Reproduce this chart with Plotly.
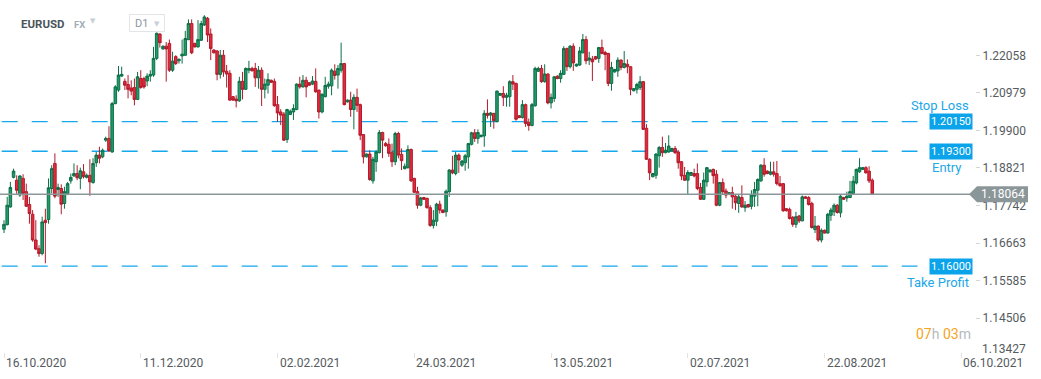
import plotly.graph_objects as go

# ---------------- data ----------------
symbol = "EURUSD"
timeframe = "D1"

open_ = [
    1.1706, 1.1719, 1.1770, 1.1855, 1.1847, 1.1804, 1.1852, 1.1814, 1.1777, 1.1749,
    1.1675, 1.1650, 1.1636, 1.1732, 1.1734, 1.1823, 1.1895, 1.1820, 1.1823, 1.1780,
    1.1809, 1.1845, 1.1859, 1.1866, 1.1852, 1.1871, 1.1855, 1.1861, 1.1840, 1.1897,
    1.1919, 1.1914, 1.1962, 1.1967, 1.1928, 1.2067, 1.2106, 1.2146, 1.2131, 1.2122,
    1.2112, 1.2113, 1.2079, 1.2139, 1.2139, 1.2132, 1.2146, 1.2149, 1.2197, 1.2267,
    1.2224, 1.2232, 1.2240, 1.2163, 1.2202, 1.2190, 1.2204, 1.2206, 1.2251, 1.2297,
    1.2240, 1.2230, 1.2249, 1.2293, 1.2312, 1.2267, 1.2221, 1.2218, 1.2151, 1.2206,
    1.2160, 1.2154, 1.2087, 1.2080, 1.2075, 1.2131, 1.2108, 1.2163, 1.2168, 1.2168,
    1.2141, 1.2163, 1.2108, 1.2120, 1.2134, 1.2131, 1.2064, 1.2043, 1.2037, 1.1964,
    1.2036, 1.2043, 1.2050, 1.2123, 1.2115, 1.2134, 1.2127, 1.2123, 1.2131, 1.2106,
    1.2043, 1.2087, 1.2117, 1.2118, 1.2160, 1.2149, 1.2163, 1.2182, 1.2072, 1.2077,
    1.2050, 1.2085, 1.2064, 1.1978, 1.1914, 1.1922, 1.1845, 1.1900, 1.1926, 1.1984,
    1.1952, 1.1950, 1.1926, 1.1900, 1.1981, 1.1921, 1.1880, 1.1883, 1.1935, 1.1852,
    1.1814, 1.1775, 1.1797, 1.1795, 1.1768, 1.1717, 1.1729, 1.1778, 1.1761, 1.1756,
    1.1814, 1.1876, 1.1866, 1.1919, 1.1890, 1.1897, 1.1914, 1.1950, 1.1983, 1.1967,
    1.1972, 1.1974, 1.2039, 1.2034, 1.2039, 1.2015, 1.2091, 1.2096, 1.2085, 1.2087,
    1.2130, 1.2125, 1.2032, 1.2027, 1.2064, 1.2013, 1.2004, 1.2061, 1.2160, 1.2168,
    1.2130, 1.2152, 1.2069, 1.2082, 1.2146, 1.2139, 1.2151, 1.2225, 1.2173, 1.2232,
    1.2175, 1.2178, 1.2213, 1.2251, 1.2192, 1.2195, 1.2202, 1.2197, 1.2228, 1.2214,
    1.2211, 1.2125, 1.2158, 1.2161, 1.2192, 1.2171, 1.2180, 1.2173, 1.2104, 1.2108,
    1.2113, 1.2130, 1.1996, 1.1907, 1.1857, 1.1861, 1.1917, 1.1941, 1.1926, 1.1928,
    1.1931, 1.1938, 1.1928, 1.1900, 1.1861, 1.1847, 1.1861, 1.1866, 1.1866, 1.1826,
    1.1792, 1.1842, 1.1871, 1.1878, 1.1864, 1.1775, 1.1840, 1.1816, 1.1806, 1.1811,
    1.1801, 1.1780, 1.1797, 1.1768, 1.1777, 1.1772, 1.1801, 1.1818, 1.1845, 1.1890,
    1.1873, 1.1864, 1.1871, 1.1866, 1.1837, 1.1837, 1.1765, 1.1763, 1.1740, 1.1720,
    1.1744, 1.1730, 1.1799, 1.1797, 1.1780, 1.1705, 1.1715, 1.1675, 1.1703, 1.1695,
    1.1746, 1.1756, 1.1775, 1.1753, 1.1797, 1.1796, 1.1797, 1.1809, 1.1839, 1.1871,
    1.1878, 1.1883, 1.1873, 1.1847,
]

high = [
    1.1732, 1.1799, 1.1842, 1.1880, 1.1861, 1.1861, 1.1864, 1.1837, 1.1799, 1.1761,
    1.1732, 1.1660, 1.1742, 1.1765, 1.1852, 1.1890, 1.1924, 1.1837, 1.1835, 1.1828,
    1.1842, 1.1866, 1.1895, 1.1890, 1.1883, 1.1893, 1.1866, 1.1907, 1.1910, 1.1928,
    1.1943, 1.1938, 1.1972, 1.2002, 1.2072, 1.2120, 1.2175, 1.2173, 1.2139, 1.2149,
    1.2134, 1.2139, 1.2158, 1.2163, 1.2144, 1.2154, 1.2163, 1.2230, 1.2271, 1.2269,
    1.2234, 1.2244, 1.2251, 1.2216, 1.2206, 1.2197, 1.2251, 1.2276, 1.2309, 1.2309,
    1.2242, 1.2307, 1.2305, 1.2321, 1.2316, 1.2283, 1.2223, 1.2221, 1.2221, 1.2221,
    1.2178, 1.2163, 1.2089, 1.2091, 1.2144, 1.2158, 1.2171, 1.2190, 1.2173, 1.2184,
    1.2175, 1.2171, 1.2139, 1.2154, 1.2136, 1.2139, 1.2089, 1.2051, 1.2043, 1.2052,
    1.2050, 1.2065, 1.2125, 1.2144, 1.2149, 1.2144, 1.2129, 1.2146, 1.2168, 1.2106,
    1.2096, 1.2144, 1.2130, 1.2168, 1.2180, 1.2178, 1.2242, 1.2184, 1.2079, 1.2101,
    1.2094, 1.2110, 1.2067, 1.1979, 1.1924, 1.1933, 1.1914, 1.1933, 1.1991, 1.1986,
    1.1957, 1.1967, 1.1952, 1.1986, 1.1986, 1.1938, 1.1895, 1.1947, 1.1938, 1.1854,
    1.1828, 1.1799, 1.1799, 1.1796, 1.1775, 1.1761, 1.1782, 1.1788, 1.1763, 1.1820,
    1.1879, 1.1917, 1.1928, 1.1924, 1.1905, 1.1922, 1.1954, 1.1986, 1.1994, 1.1993,
    1.1978, 1.2048, 1.2079, 1.2043, 1.2040, 1.2104, 1.2098, 1.2117, 1.2098, 1.2134,
    1.2149, 1.2127, 1.2034, 1.2077, 1.2067, 1.2024, 1.2069, 1.2173, 1.2173, 1.2178,
    1.2180, 1.2154, 1.2096, 1.2146, 1.2148, 1.2163, 1.2232, 1.2228, 1.2235, 1.2240,
    1.2182, 1.2230, 1.2267, 1.2261, 1.2216, 1.2204, 1.2204, 1.2230, 1.2251, 1.2219,
    1.2213, 1.2187, 1.2167, 1.2200, 1.2194, 1.2218, 1.2194, 1.2175, 1.2112, 1.2127,
    1.2146, 1.2132, 1.2008, 1.1910, 1.1868, 1.1924, 1.1945, 1.1972, 1.1954, 1.1976,
    1.1940, 1.1945, 1.1933, 1.1902, 1.1885, 1.1876, 1.1871, 1.1880, 1.1895, 1.1839,
    1.1869, 1.1885, 1.1878, 1.1880, 1.1876, 1.1842, 1.1852, 1.1823, 1.1813, 1.1828,
    1.1804, 1.1807, 1.1832, 1.1787, 1.1779, 1.1818, 1.1842, 1.1852, 1.1893, 1.1910,
    1.1875, 1.1900, 1.1900, 1.1902, 1.1859, 1.1839, 1.1767, 1.1768, 1.1744, 1.1756,
    1.1747, 1.1803, 1.1801, 1.1801, 1.1785, 1.1744, 1.1717, 1.1708, 1.1705, 1.1753,
    1.1768, 1.1780, 1.1778, 1.1804, 1.1799, 1.1814, 1.1845, 1.1859, 1.1880, 1.1910,
    1.1885, 1.1887, 1.1887, 1.1852,
]

low = [
    1.1695, 1.1717, 1.1768, 1.1852, 1.1804, 1.1799, 1.1790, 1.1770, 1.1722, 1.1670,
    1.1646, 1.1627, 1.1631, 1.1608, 1.1722, 1.1809, 1.1795, 1.1799, 1.1749, 1.1765,
    1.1804, 1.1837, 1.1857, 1.1847, 1.1821, 1.1852, 1.1852, 1.1802, 1.1837, 1.1885,
    1.1895, 1.1910, 1.1957, 1.1928, 1.1926, 1.2065, 1.2101, 1.2144, 1.2106, 1.2082,
    1.2091, 1.2062, 1.2077, 1.2110, 1.2110, 1.2117, 1.2130, 1.2144, 1.2192, 1.2228,
    1.2222, 1.2130, 1.2158, 1.2158, 1.2178, 1.2182, 1.2182, 1.2204, 1.2249, 1.2209,
    1.2228, 1.2228, 1.2247, 1.2290, 1.2244, 1.2192, 1.2211, 1.2134, 1.2139, 1.2144,
    1.2113, 1.2075, 1.2075, 1.2056, 1.2072, 1.2079, 1.2106, 1.2154, 1.2160, 1.2115,
    1.2110, 1.2060, 1.2082, 1.2096, 1.2126, 1.2058, 1.2015, 1.2005, 1.1960, 1.1954,
    1.2034, 1.2020, 1.2048, 1.2110, 1.2113, 1.2085, 1.2118, 1.2120, 1.2098, 1.2024,
    1.2039, 1.2085, 1.2110, 1.2091, 1.2136, 1.2110, 1.2156, 1.2062, 1.2070, 1.2029,
    1.1993, 1.2043, 1.1962, 1.1895, 1.1912, 1.1845, 1.1837, 1.1871, 1.1924, 1.1910,
    1.1943, 1.1914, 1.1885, 1.1890, 1.1910, 1.1876, 1.1878, 1.1880, 1.1842, 1.1811,
    1.1765, 1.1772, 1.1790, 1.1765, 1.1713, 1.1708, 1.1715, 1.1751, 1.1752, 1.1742,
    1.1799, 1.1864, 1.1861, 1.1868, 1.1885, 1.1874, 1.1880, 1.1947, 1.1957, 1.1952,
    1.1970, 1.1943, 1.2024, 1.2000, 1.1995, 1.2014, 1.2089, 1.2060, 1.2058, 1.2058,
    1.2106, 1.2018, 1.2025, 1.2024, 1.2000, 1.1989, 1.2002, 1.2058, 1.2158, 1.2127,
    1.2127, 1.2065, 1.2053, 1.2072, 1.2137, 1.2127, 1.2149, 1.2161, 1.2168, 1.2161,
    1.2173, 1.2175, 1.2211, 1.2180, 1.2178, 1.2132, 1.2193, 1.2184, 1.2209, 1.2163,
    1.2117, 1.2104, 1.2156, 1.2144, 1.2163, 1.2168, 1.2154, 1.2091, 1.2102, 1.2096,
    1.2106, 1.1991, 1.1905, 1.1847, 1.1855, 1.1851, 1.1883, 1.1914, 1.1924, 1.1926,
    1.1929, 1.1922, 1.1880, 1.1847, 1.1845, 1.1807, 1.1859, 1.1855, 1.1818, 1.1790,
    1.1790, 1.1828, 1.1869, 1.1837, 1.1772, 1.1772, 1.1804, 1.1795, 1.1804, 1.1765,
    1.1761, 1.1753, 1.1768, 1.1756, 1.1768, 1.1763, 1.1770, 1.1772, 1.1842, 1.1857,
    1.1864, 1.1861, 1.1857, 1.1832, 1.1828, 1.1756, 1.1757, 1.1734, 1.1713, 1.1710,
    1.1724, 1.1729, 1.1793, 1.1774, 1.1708, 1.1695, 1.1670, 1.1668, 1.1694, 1.1694,
    1.1730, 1.1744, 1.1751, 1.1740, 1.1790, 1.1785, 1.1796, 1.1807, 1.1835, 1.1868,
    1.1876, 1.1866, 1.1839, 1.1806,
]

close = [
    1.1720, 1.1775, 1.1826, 1.1873, 1.1818, 1.1859, 1.1809, 1.1772, 1.1751, 1.1675,
    1.1649, 1.1636, 1.1727, 1.1725, 1.1825, 1.1880, 1.1801, 1.1826, 1.1778, 1.1814,
    1.1837, 1.1855, 1.1866, 1.1854, 1.1874, 1.1857, 1.1861, 1.1842, 1.1895, 1.1919,
    1.1910, 1.1933, 1.1967, 1.1931, 1.2067, 1.2115, 1.2149, 1.2151, 1.2120, 1.2108,
    1.2103, 1.2079, 1.2144, 1.2113, 1.2115, 1.2146, 1.2151, 1.2197, 1.2269, 1.2242,
    1.2232, 1.2224, 1.2163, 1.2189, 1.2182, 1.2194, 1.2209, 1.2254, 1.2297, 1.2213,
    1.2230, 1.2251, 1.2297, 1.2316, 1.2264, 1.2225, 1.2213, 1.2151, 1.2206, 1.2158,
    1.2152, 1.2077, 1.2077, 1.2075, 1.2131, 1.2108, 1.2168, 1.2168, 1.2161, 1.2141,
    1.2163, 1.2108, 1.2123, 1.2136, 1.2128, 1.2061, 1.2040, 1.2034, 1.1962, 1.2050,
    1.2045, 1.2053, 1.2123, 1.2115, 1.2134, 1.2115, 1.2120, 1.2132, 1.2101, 1.2043,
    1.2094, 1.2119, 1.2123, 1.2163, 1.2148, 1.2168, 1.2182, 1.2064, 1.2077, 1.2050,
    1.2085, 1.2062, 1.1976, 1.1914, 1.1922, 1.1849, 1.1907, 1.1928, 1.1984, 1.1962,
    1.1946, 1.1924, 1.1900, 1.1981, 1.1919, 1.1903, 1.1887, 1.1935, 1.1845, 1.1812,
    1.1775, 1.1796, 1.1792, 1.1768, 1.1717, 1.1732, 1.1778, 1.1761, 1.1754, 1.1815,
    1.1876, 1.1868, 1.1919, 1.1905, 1.1902, 1.1917, 1.1952, 1.1983, 1.1967, 1.1984,
    1.1976, 1.2039, 1.2033, 1.2040, 1.2018, 1.2103, 1.2096, 1.2085, 1.2091, 1.2130,
    1.2123, 1.2022, 1.2027, 1.2064, 1.2010, 1.2004, 1.2064, 1.2168, 1.2168, 1.2130,
    1.2152, 1.2069, 1.2085, 1.2144, 1.2139, 1.2154, 1.2225, 1.2173, 1.2232, 1.2184,
    1.2180, 1.2218, 1.2251, 1.2190, 1.2198, 1.2187, 1.2195, 1.2228, 1.2211, 1.2208,
    1.2125, 1.2171, 1.2165, 1.2192, 1.2171, 1.2182, 1.2173, 1.2108, 1.2110, 1.2122,
    1.2130, 1.1993, 1.1907, 1.1868, 1.1866, 1.1922, 1.1941, 1.1926, 1.1933, 1.1945,
    1.1938, 1.1926, 1.1897, 1.1859, 1.1847, 1.1869, 1.1869, 1.1859, 1.1823, 1.1792,
    1.1847, 1.1883, 1.1876, 1.1860, 1.1775, 1.1840, 1.1814, 1.1804, 1.1811, 1.1799,
    1.1782, 1.1799, 1.1770, 1.1775, 1.1770, 1.1804, 1.1820, 1.1849, 1.1890, 1.1864,
    1.1866, 1.1871, 1.1864, 1.1837, 1.1831, 1.1759, 1.1759, 1.1737, 1.1720, 1.1742,
    1.1730, 1.1799, 1.1795, 1.1777, 1.1711, 1.1715, 1.1675, 1.1703, 1.1695, 1.1749,
    1.1761, 1.1775, 1.1754, 1.1801, 1.1792, 1.1801, 1.1814, 1.1844, 1.1878, 1.1883,
    1.1883, 1.1868, 1.1845, 1.1807,
]

date_tick_bars = [0, 43, 86, 129, 172, 215, 258, 301]
date_tick_labels = ["16.10.2020", "11.12.2020", "02.02.2021", "24.03.2021",
                    "13.05.2021", "02.07.2021", "22.08.2021", "06.10.2021"]
price_ticks = [1.22058, 1.20979, 1.19900, 1.18821, 1.17742, 1.16663, 1.15585, 1.14506]
lowest_price_tick = 1.13427
level_names = ["Stop Loss", "Entry", "Take Profit"]
level_values = [1.20150, 1.19300, 1.16000]
last_price = 1.18064
countdown_hours = "07"
countdown_minutes = "03"

# ---------------- styling ----------------
GREEN_FILL, GREEN_LINE = "#1f9c69", "#0d6e47"
RED_FILL, RED_LINE = "#e62a3c", "#b01b2b"
LEVEL_BLUE = "#14a8f0"
LEVEL_BOX = "#0ba3ea"
LAST_GRAY = "#8b9699"
TEXT_GRAY = "#555b5e"

n = len(close)
assert len(open_) == len(high) == len(low) == n
bar_index = list(range(n))

PLOT_W = 975.0   # plot area width in px
PLOT_H = 352.0   # plot area height in px


def px_x(px):
    return px / PLOT_W


def px_y(py):
    return (PLOT_H - py) / PLOT_H


fig = go.Figure(
    go.Candlestick(
        x=bar_index, open=open_, high=high, low=low, close=close,
        increasing=dict(fillcolor=GREEN_FILL, line=dict(color=GREEN_LINE, width=1)),
        decreasing=dict(fillcolor=RED_FILL, line=dict(color=RED_LINE, width=1)),
        whiskerwidth=0, hoverinfo="skip", showlegend=False,
    )
)

shapes = []
annotations = []

# trade levels: dashed lines, value boxes, names
name_shift = [16, -16, -16]
name_x = [970.5, 964.0, 970.5]
for name, val, dy, nx in zip(level_names, level_values, name_shift, name_x):
    shapes.append(dict(type="line", xref="paper", yref="y", x0=px_x(1.7), x1=px_x(917.5),
                       y0=val, y1=val, line=dict(color=LEVEL_BLUE, width=1.3, dash="16px,14px"),
                       layer="below"))
    annotations.append(dict(text=f"{val:.5f}", xref="paper", yref="y", x=px_x(972.5), y=val,
                            xanchor="right", yanchor="middle", showarrow=False,
                            bgcolor=LEVEL_BOX, borderpad=1,
                            font=dict(family="Roboto", size=11, color="white")))
    annotations.append(dict(text=name, xref="paper", yref="y", x=px_x(nx), y=val, yshift=dy,
                            xanchor="right", yanchor="middle", showarrow=False,
                            font=dict(family="Roboto", size=13, color="#21a7e6")))

# last price line and tag
shapes.append(dict(type="line", xref="paper", yref="y", x0=0, x1=1, y0=last_price, y1=last_price,
                   line=dict(color=LAST_GRAY, width=1.5), layer="above"))
shapes.append(dict(type="path", xref="paper", yref="y", xsizemode="pixel", ysizemode="pixel",
                   xanchor=1, yanchor=last_price,
                   path="M -6,0 L 2,8 L 53,8 L 53,-8 L 2,-8 Z",
                   fillcolor=LAST_GRAY, line=dict(width=0), layer="above"))
annotations.append(dict(text=f"{last_price:.5f}", xref="paper", yref="y", x=1, xshift=4,
                        y=last_price, xanchor="left", yanchor="middle", showarrow=False,
                        font=dict(family="Roboto", size=12, color="white")))

# lowest price label (sits just above the date row, below the plotted range)
annotations.append(dict(text=f"{lowest_price_tick:.5f}", xref="paper", yref="paper", x=1, xshift=5,
                        y=px_y(348.5), xanchor="left", yanchor="middle",
                        showarrow=False, font=dict(family="Roboto", size=12, color=TEXT_GRAY)))

# date labels, left-aligned on their ticks
for b, lab in zip(date_tick_bars, date_tick_labels):
    annotations.append(dict(text=lab, xref="x", yref="paper", x=b, y=0, yshift=-2,
                            xanchor="left", yanchor="top", showarrow=False,
                            font=dict(family="Roboto", size=12, color=TEXT_GRAY)))

# countdown
annotations.append(dict(
    text=(f"<span style='color:#f5a422'>{countdown_hours}</span>"
          f"<span style='color:#b5babd'>h </span>"
          f"<span style='color:#f5a422'>{countdown_minutes}</span>"
          f"<span style='color:#b5babd'>m</span>"),
    xref="paper", yref="paper", x=px_x(972.5), y=px_y(334), xanchor="right", yanchor="middle",
    showarrow=False, font=dict(family="Roboto", size=14)))

# header
annotations.append(dict(text=f"<b>{symbol}</b>", xref="paper", yref="paper", x=px_x(19),
                        y=px_y(23.5), xanchor="left", yanchor="middle", showarrow=False,
                        font=dict(family="Roboto", size=11.5, color="#4a545b")))
annotations.append(dict(text="<b>FX</b>", xref="paper", yref="paper", x=px_x(71.5),
                        y=px_y(24), xanchor="left", yanchor="middle", showarrow=False,
                        font=dict(family="Roboto", size=9.5, color="#a4aeb4")))
annotations.append(dict(text="▼", xref="paper", yref="paper", x=px_x(93), y=px_y(21.5),
                        xanchor="center", yanchor="middle", showarrow=False,
                        font=dict(family="DejaVu Sans", size=7, color="#c9cfd3")))
shapes.append(dict(type="rect", xref="paper", yref="paper", x0=px_x(129.5), x1=px_x(164.5),
                   y0=px_y(31.5), y1=px_y(14.5), line=dict(color="#e1e5e7", width=1),
                   fillcolor="white", layer="above"))
annotations.append(dict(text=timeframe, xref="paper", yref="paper", x=px_x(133),
                        y=px_y(23.5), xanchor="left", yanchor="middle", showarrow=False,
                        font=dict(family="Roboto", size=11, color="#8d979d")))
annotations.append(dict(text="▼", xref="paper", yref="paper", x=px_x(157), y=px_y(24),
                        xanchor="center", yanchor="middle", showarrow=False,
                        font=dict(family="DejaVu Sans", size=7, color="#c9cfd3")))

fig.update_layout(
    width=1041, height=379,
    margin=dict(l=0, r=66, t=0, b=27),
    paper_bgcolor="white", plot_bgcolor="white",
    showlegend=False, boxgap=0.2, boxgroupgap=0,
    font=dict(family="Roboto", size=12, color=TEXT_GRAY),
    shapes=shapes, annotations=annotations,
    hovermode=False,
)
fig.update_xaxes(
    range=[-1.26, 305.3], showgrid=False, zeroline=False, showline=False,
    tickvals=date_tick_bars, showticklabels=False,
    ticks="outside", ticklen=5, tickcolor="#e3e3e3",
    rangeslider=dict(visible=False), fixedrange=True,
)
fig.update_yaxes(
    side="right", range=[1.13532, 1.23647], showgrid=False, zeroline=False, showline=False,
    tickvals=price_ticks, ticktext=[f"{v:.5f}" for v in price_ticks],
    ticks="outside", ticklen=4, tickcolor="#d5d5d5",
    tickfont=dict(family="Roboto", size=12, color=TEXT_GRAY), fixedrange=True,
)

fig.write_html(
    "out.html",
    config={"displayModeBar": False},
    post_script="document.body.style.margin='0';document.body.style.padding='0';",
)
